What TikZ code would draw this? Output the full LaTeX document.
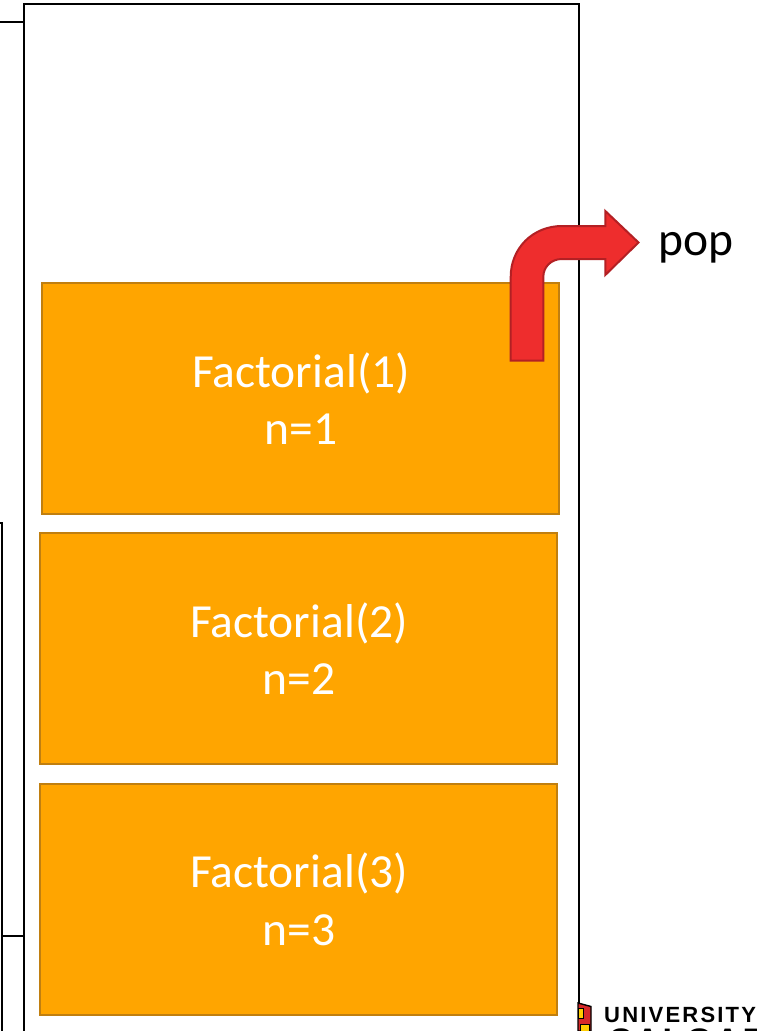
\documentclass[tikz,border=0pt]{standalone}
\usepackage{fontspec}
\setmainfont{Carlito}
\newfontfamily\logofont[LetterSpace=10]{Liberation Sans}
\newfontfamily\logobigfont[LetterSpace=8]{Liberation Sans}
\definecolor{frameorange}{HTML}{FFA500}
\definecolor{edgeorange}{HTML}{C07F10}
\definecolor{arrowred}{HTML}{EE2D2D}
\definecolor{edgered}{HTML}{B32024}
\definecolor{shieldyellow}{HTML}{FFCD00}
\tikzset{
  framebox/.style={draw=black,line width=2.3pt,fill=none},
  outline/.style={draw=black,line width=1.6pt},
  stackbox/.style={draw=edgeorange,line width=2.5pt,fill=frameorange,minimum width=517pt,minimum height=231pt,inner sep=0pt,
    text=white,align=center,font=\fontsize{47.5}{57.5}\selectfont},
  poplabel/.style={text=black,font=\fontsize{47.5}{53}\selectfont,inner sep=0pt},
  logotext/.style={text=black,inner sep=0pt,anchor=west}
}
\begin{document}
\begin{tikzpicture}[x=1pt,y=-1pt]
\useasboundingbox (0,0) rectangle (757,1031);
\clip (0,0) rectangle (757,1031);
\fill[white] (0,0) rectangle (757,1031);
% background slide fragments on the left
\coordinate (frameA) at (23,22);
\coordinate (edgeA) at (0,22);
\draw[outline] (edgeA) -- (frameA);
\coordinate (leftTopA) at (0,523);
\coordinate (leftTopB) at (2,523);
\coordinate (leftBottom) at (2,1031);
\draw[outline] (leftTopA) -- (leftTopB) -- (leftBottom);
\coordinate (frameB) at (23,936);
\draw[outline] (2,936) -- (frameB);
% stack frame
\node[framebox,minimum width=555pt,minimum height=1100pt,inner sep=0pt,anchor=north west] (stack) at (22.5,3) {};
% stack entries
\node[stackbox] (f1) at (300.5,398.5) {\hspace*{1pt}Factorial(1)\\\hspace*{1pt}n=1};
\node[stackbox] (f2) at (298.5,648.5) {\hspace*{1pt}Factorial(2)\\\hspace*{1pt}n=2};
\node[stackbox] (f3) at (298.5,899.5) {\hspace*{1pt}Factorial(3)\\\hspace*{1pt}n=3};
% bent arrow
\draw[draw=edgered,line width=2pt,fill=arrowred,line join=miter]
  (510.7,360.5) -- (510.7,277) .. controls (510.7,248) and (533,226) .. (562,226)
  -- (605.3,226) -- (605.3,211) -- (638.5,242.5) -- (605.3,275) -- (605.3,259)
  -- (562,259) .. controls (551,259) and (543.3,267) .. (543.3,277) -- (543.3,360.5) -- cycle;
\node[poplabel,anchor=west] (pop) at (658,248) {pop};
% logo
\draw[black,line width=1.4pt,fill=edgered!40!arrowred] (578,1003) -- (591,1006.5) -- (591,1031) -- (578,1031) -- cycle;
\fill[shieldyellow,draw=black,line width=0.8pt] (578,1008) rectangle (583,1018);
\fill[shieldyellow,draw=black,line width=0.8pt] (580,1024.5) rectangle (589,1033);
\node[logotext,font=\logofont\bfseries\fontsize{22}{22}\selectfont] (univ) at (604,1015) {UNIVERSITY};
\node[logotext,font=\logobigfont\bfseries\fontsize{34}{34}\selectfont] (calg) at (608,1041) {CALGARY};
\end{tikzpicture}
\end{document}
